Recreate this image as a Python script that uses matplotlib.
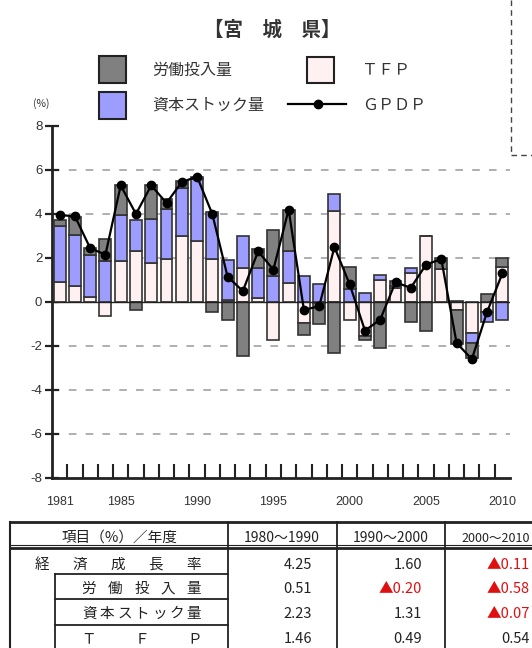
import numpy as np
import matplotlib
matplotlib.use("Agg")
import matplotlib.pyplot as plt
from matplotlib.patches import Rectangle

plt.rcParams['font.family'] = ['Noto Sans CJK JP', 'DejaVu Sans']
plt.rcParams['axes.unicode_minus'] = False

# ---------------- data ----------------
years = list(range(1981, 2011))
tfp = [0.90, 0.74, 0.23, -0.65, 1.85, 2.30, 1.77, 1.95, 2.98, 2.79,
       1.97, 0.10, 1.55, 0.18, -1.71, 0.86, -0.95, -0.05, 4.12, -0.80,
       -1.56, 1.00, 0.65, 1.30, 2.98, 1.50, -0.35, -1.41, -0.45, 1.60]
capital = [2.55, 2.32, 1.92, 1.85, 2.12, 1.44, 2.00, 2.28, 2.20, 2.81,
           2.10, 1.82, 1.45, 1.37, 1.17, 1.44, 1.17, 0.83, 0.80, 0.60,
           0.41, 0.24, 0.10, 0.25, 0.00, 0.00, 0.05, -0.45, -0.45, -0.80]
labor = [0.30, 0.80, 0.30, 1.00, 1.36, -0.38, 1.56, 0.45, 0.30, 0.10,
         -0.47, -0.80, -2.47, 0.85, 2.12, 1.90, -0.53, -0.95, -2.32, 1.00,
         -0.15, -2.09, 0.20, -0.90, -1.30, 0.50, -1.55, -0.70, 0.35, 0.40]
gpdp = [3.95, 3.90, 2.45, 2.15, 5.30, 4.00, 5.30, 4.50, 5.45, 5.70,
        4.00, 1.15, 0.50, 2.30, 1.47, 4.20, -0.35, -0.20, 2.50, 0.80,
        -1.30, -0.80, 0.90, 0.64, 1.70, 1.95, -1.86, -2.60, -0.45, 1.30]
year_labels = [1981, 1985, 1990, 1995, 2000, 2005, 2010]

table_header = ['項目（%）／年度', '1980～1990', '1990～2000', '2000～2010']
table_rows = ['経済成長率', '労働投入量', '資本ストック量', 'ＴＦＰ']
table_vals = [['4.25', '1.60', '▲0.11'],
              ['0.51', '▲0.20', '▲0.58'],
              ['2.23', '1.31', '▲0.07'],
              ['1.46', '0.49', '0.54']]

# ---------------- style ----------------
c_labor = '#808080'
c_cap = '#9d9dff'
c_tfp = '#fff0f2'
c_edge = '#333333'

W, H = 532, 648
fig = plt.figure(figsize=(W / 100, H / 100), dpi=100)
fig.patch.set_facecolor('white')

# chart axes (pixel geometry: x 52..510, y 126..478)
ax = fig.add_axes([52 / W, (H - 478) / H, (510 - 52) / W, (478 - 126) / H])
x = np.arange(len(years))
pos = np.zeros(len(years))
neg = np.zeros(len(years))
for vals, col in [(tfp, c_tfp), (capital, c_cap), (labor, c_labor)]:
    v = np.array(vals, dtype=float)
    bottom = np.where(v >= 0, pos, neg)
    ax.bar(x, v, bottom=bottom, width=0.78, color=col, edgecolor=c_edge,
           linewidth=1.2, zorder=3)
    pos += np.where(v > 0, v, 0)
    neg += np.where(v < 0, v, 0)

ax.plot(x, gpdp, color='black', lw=1.6, marker='o', ms=6, zorder=6)

for gy in [-6, -4, -2, 2, 4, 6]:
    ax.axhline(gy, color='#9a9a9a', lw=1.1, ls=(0, (5, 6)), zorder=1)
ax.axhline(0, color='#222222', lw=1.0, zorder=5)

ax.set_xlim(-0.5, len(years) - 0.5)
ax.set_ylim(-8, 8)
for s in ['top', 'right']:
    ax.spines[s].set_visible(False)
for s in ['left', 'bottom']:
    ax.spines[s].set_linewidth(2)
    ax.spines[s].set_color('#222222')

ax.set_yticks(range(-8, 9, 2))
ax.set_yticklabels([str(v) for v in range(-8, 9, 2)], fontsize=9.5,
                   color='#333333', family=['Liberation Sans', 'DejaVu Sans'])
ax.tick_params(axis='y', direction='inout', length=10, width=1.6, pad=2,
               color='#222222')
ax.set_xticks([years.index(y) for y in year_labels])
ax.set_xticklabels([str(y) for y in year_labels], fontsize=9,
                   color='#333333', family=['Liberation Sans', 'DejaVu Sans'])
ax.tick_params(axis='x', which='major', length=0, pad=13)
ax.set_xticks(np.arange(0.5, len(years) - 0.5, 1), minor=True)
ax.tick_params(axis='x', which='minor', direction='in', length=10, width=1.5,
               color='#222222')
ax.patch.set_alpha(0)

# overlay in pixel coordinates
ov = fig.add_axes([0, 0, 1, 1], zorder=-1)
ov.set_xlim(0, W)
ov.set_ylim(H, 0)
ov.axis('off')

# title
ov.text(272, 30, '【宮　城　県】', ha='center', va='center', fontsize=14,
        fontweight='bold', color='#333333')

# legend
ov.add_patch(Rectangle((99, 56), 27, 27, facecolor=c_labor, edgecolor='#222222', lw=1.5))
ov.text(152, 70, '労働投入量', va='center', fontsize=11.5, color='#333333')
ov.add_patch(Rectangle((307, 57), 27, 26, facecolor=c_tfp, edgecolor='#222222', lw=1.5))
ov.text(362, 70, 'ＴＦＰ', va='center', fontsize=11.5, color='#333333')
ov.add_patch(Rectangle((99, 92), 27, 27, facecolor=c_cap, edgecolor='#222222', lw=1.5))
ov.text(152, 105, '資本ストック量', va='center', fontsize=11.5, color='#333333')
ov.plot([288, 346], [104, 104], color='black', lw=1.6)
ov.plot([318], [104], marker='o', color='black', ms=6)
ov.text(362, 105, 'ＧＰＤＰ', va='center', fontsize=11.5, color='#333333')
ov.text(33, 104, '(%)', va='center', fontsize=7.5, color='#333333')

# dashed frame of neighbouring box
ov.plot([511, 511], [0, 155], color='#444444', lw=1, ls=(0, (4, 3)))
ov.plot([511, W], [155, 155], color='#444444', lw=1, ls=(0, (4, 3)))

# ---------------- table ----------------
tl, tr = 10, 553
col = [10, 228, 337, 445, 553]
yt, yh, yb = 522, 548, 660
rows_y = [574, 599, 625]
lc = '#222222'
ov.plot([tl, tr], [yt, yt], color=lc, lw=2)
ov.plot([tl, tr], [yh - 3, yh - 3], color=lc, lw=0.8)
ov.plot([tl, tr], [yh, yh], color=lc, lw=2)
ov.plot([tl, tl], [yt, yb], color=lc, lw=1.5)
for cx in col[1:4]:
    ov.plot([cx, cx], [yt, yb], color=lc, lw=1.3)
ov.plot([55, 55], [rows_y[0], yb], color=lc, lw=1.3)
for ry in rows_y:
    ov.plot([55, 228], [ry, ry], color=lc, lw=1.3)

tc = '#222222'
ov.text(119, 538, table_header[0], ha='center', va='center', fontsize=10.5, color=tc)
ov.text(282, 538, table_header[1], ha='center', va='center', fontsize=10, color=tc)
ov.text(391, 538, table_header[2], ha='center', va='center', fontsize=10, color=tc)
ov.text(530, 538, table_header[3], ha='right', va='center', fontsize=9, color=tc)

row_cy = [565, 589, 614, 639]


def spread(txt, c0, c1, y):
    n = len(txt)
    for i, ch in enumerate(txt):
        cx = c0 + (c1 - c0) * i / (n - 1)
        ov.text(cx, y, ch, ha='center', va='center', fontsize=10.5, color=tc)


spread(table_rows[0], 42, 194, row_cy[0])
spread(table_rows[1], 89, 194, row_cy[1])
spread(table_rows[2], 90, 194, row_cy[2])
spread(table_rows[3], 89, 195, row_cy[3])

rx = [312, 422, 530]
for r, vals in enumerate(table_vals):
    for cidx, v in enumerate(vals):
        colr = '#e01010' if v.startswith('▲') else tc
        ov.text(rx[cidx], row_cy[r], v, ha='right', va='center', fontsize=10.5,
                color=colr)

fig.savefig('out.png', dpi=100, facecolor='white')
